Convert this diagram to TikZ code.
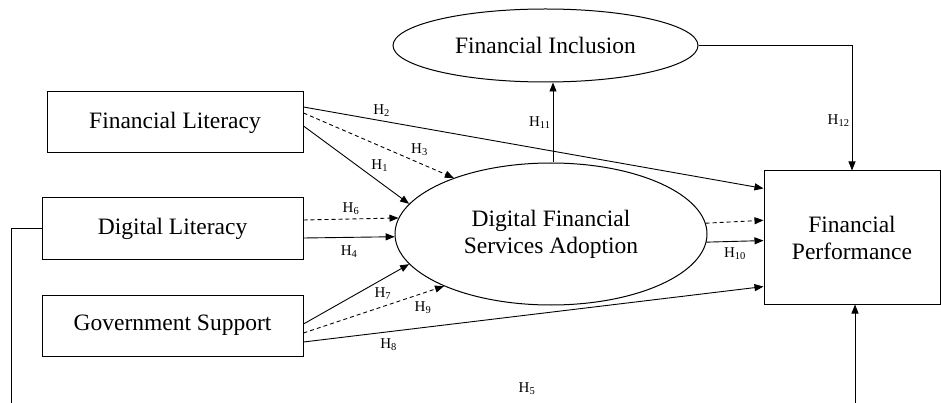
\documentclass[tikz,border=0pt]{standalone}
\usepackage{fontspec}
\setmainfont{Liberation Serif}
\usetikzlibrary{shapes.geometric, arrows.meta}

\begin{document}
\begin{tikzpicture}[
    x=1pt, y=-1pt,
    construct/.style={rectangle, draw, line width=1pt, minimum height=61pt, inner sep=2pt, align=center, font=\fontsize{23.5}{27}\selectfont},
    latent/.style={ellipse, draw, line width=1pt, inner sep=0pt, align=center, font=\fontsize{23.5}{27}\selectfont},
    hyp/.style={font=\fontsize{15}{16}\selectfont, inner sep=2pt},
    arrow/.style={-{Triangle[length=9pt, width=7pt]}, line width=0.9pt},
    dasharrow/.style={arrow, dash pattern=on 4pt off 3pt}
]
\useasboundingbox (0,0) rectangle (941,403);
\clip (0,0) rectangle (941,403);

% Constructs
\node[construct, minimum width=256pt] (finlit) at (175,122.5) {Financial Literacy};
\node[construct, minimum width=261pt] (diglit) at (172.5,228.5) {Digital Literacy};
\node[construct, minimum width=261pt] (govsup) at (172.5,325.5) {Government Support};
\node[latent, minimum width=312pt, minimum height=142pt] (dfsa) at (551,234) {Digital Financial\\Services Adoption};
\node[latent, minimum width=305pt, minimum height=73pt] (finincl) at (545.5,45.5) {Financial Inclusion};
\node[construct, minimum width=176pt, minimum height=133pt] (finperf) at (852,237.5) {Financial\\Performance};

% Paths from Financial Literacy
\draw[arrow] ([yshift=-3.5pt]finlit.east) -- node[hyp, pos=0.62, above right=0pt] {H\textsubscript{1}} (dfsa.168);
\draw[arrow] ([yshift=15.5pt]finlit.east) -- node[hyp, pos=0.17, above=2pt] {H\textsubscript{2}} (finperf.151.3);
\draw[dasharrow] ([yshift=9.5pt]finlit.east) -- node[hyp, pos=0.7, above right] {H\textsubscript{3}} (dfsa.150);

% Paths from Digital Literacy
\draw[arrow] ([yshift=-9.5pt]diglit.east) -- node[hyp, below=6pt] {H\textsubscript{4}} (dfsa.181.5);
\draw[dasharrow] ([yshift=8.5pt]diglit.east) -- node[hyp, above=2pt] {H\textsubscript{6}} (dfsa.174.9);

% Paths from Government Support
\draw[arrow] ([yshift=1.5pt]govsup.east) -- node[hyp, pos=0.65, below right] {H\textsubscript{7}} (dfsa.192.1);
\draw[dasharrow] ([yshift=-7.5pt]govsup.east) -- node[hyp, pos=0.76, below right=2pt] {H\textsubscript{9}} (dfsa.206.8);
\draw[arrow] ([yshift=-16.5pt]govsup.east) -- node[hyp, pos=0.185, below=4pt] {H\textsubscript{8}} (finperf.209.7);

% Adoption to performance and inclusion
\draw[dasharrow] (dfsa.4.8) -- (finperf.169.4);
\draw[arrow] (dfsa.357.4) -- node[hyp, below=4pt] {H\textsubscript{10}} (finperf.182.3);
\draw[arrow] ([xshift=2pt]dfsa.north) -- node[hyp, left] {H\textsubscript{11}} ([xshift=2pt]dfsa.north |- finincl.south);
\draw[arrow] (finincl.east) -| node[hyp, pos=0.8, left] {H\textsubscript{12}} (finperf.north);

% Digital Literacy to performance (runs below the frame)
\coordinate (h5corner) at (11,410);
\draw[arrow] (diglit.west) -| (h5corner) -| ([xshift=3pt]finperf.south);
\node[hyp] (h5label) at (527,389) {H\textsubscript{5}};

\end{tikzpicture}
\end{document}
